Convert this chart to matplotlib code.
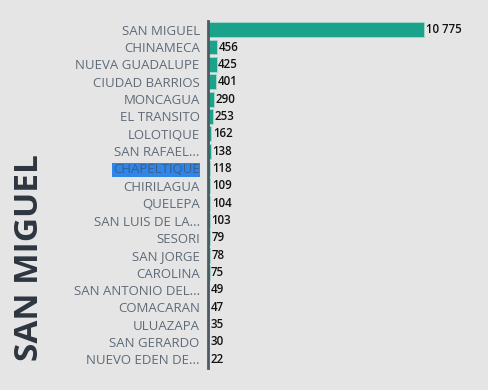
import matplotlib.pyplot as plt

municipios = ["SAN MIGUEL", "CHINAMECA", "NUEVA GUADALUPE", "CIUDAD BARRIOS",
              "MONCAGUA", "EL TRANSITO", "LOLOTIQUE", "SAN RAFAEL...",
              "CHAPELTIQUE", "CHIRILAGUA", "QUELEPA", "SAN LUIS DE LA...",
              "SESORI", "SAN JORGE", "CAROLINA", "SAN ANTONIO DEL...",
              "COMACARAN", "ULUAZAPA", "SAN GERARDO", "NUEVO EDEN DE..."]
casos = [10775, 456, 425, 401, 290, 253, 162, 138, 118, 109, 104, 103,
         79, 78, 75, 49, 47, 35, 30, 22]
value_labels = ["10 775", "456", "425", "401", "290", "253", "162", "138",
                "118", "109", "104", "103", "79", "78", "75", "49", "47",
                "35", "30", "22"]
highlight = "CHAPELTIQUE"

plt.rcParams["font.family"] = ["Open Sans", "DejaVu Sans"]

bg = "#e5e5e5"
fig = plt.figure(figsize=(4.88, 3.9), dpi=100, facecolor=bg)
ax = fig.add_axes([208 / 488, 1 - 368 / 390, 280 / 488, 347 / 390], facecolor=bg)

y = list(range(len(municipios)))
ax.barh(y, casos, height=0.86, color="#1aa38a", edgecolor="#a8d8cc", linewidth=0.6)

ax.set_ylim(len(municipios) - 0.5, -0.5)
ax.set_xlim(0, 10775 * 280 / 216)

for i, (v, lab) in enumerate(zip(casos, value_labels)):
    ax.text(v + 80, i, lab, va="center", ha="left", fontsize=8.3,
            fontweight="semibold", color="#111111")

ax.set_yticks(y)
ax.set_yticklabels(municipios, fontsize=9.5, color="#5f6b78")
ax.tick_params(axis="y", length=0, pad=6)
ax.set_xticks([])
for t in ax.get_yticklabels():
    if t.get_text() == highlight:
        t.set_bbox(dict(facecolor="#2f86e8", edgecolor="none", pad=0.5))
        t.set_color("#3a5f8a")

for s in ["top", "right", "bottom"]:
    ax.spines[s].set_visible(False)
ax.spines["left"].set_color("#4f5a63")
ax.spines["left"].set_linewidth(2)

fig.text(30 / 488, 1 - 258 / 390, "SAN MIGUEL", rotation=90, ha="center",
         va="center", fontsize=24, fontweight="bold", color="#2d3540")

fig.savefig("out.png", dpi=100, facecolor=bg)
